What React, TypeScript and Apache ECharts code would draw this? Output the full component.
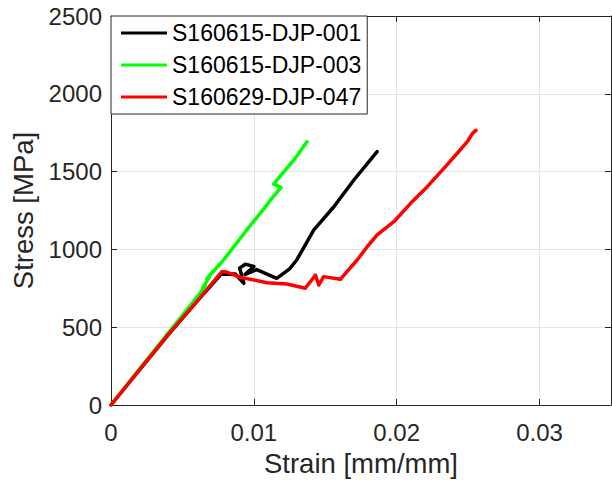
import React, { useEffect, useRef } from "react";
import * as echarts from "echarts";

const seriesNames = ["S160615-DJP-001", "S160615-DJP-003", "S160629-DJP-047"];
const seriesColors = ["#000000", "#00ff00", "#ff0000"];

const strain001 = [0, 0.002, 0.004, 0.006, 0.0077, 0.0087, 0.0093, 0.009, 0.0094, 0.01, 0.0094, 0.0102, 0.0116, 0.0125, 0.013, 0.0142, 0.0156, 0.017, 0.01863];
const stress001 = [0, 225, 450, 665, 840, 842, 782, 880, 905, 890, 840, 870, 814, 875, 932, 1125, 1274, 1446, 1628];

const strain003 = [0, 0.002, 0.004, 0.0063, 0.0066, 0.0064, 0.0069, 0.0067, 0.0072, 0.0071, 0.0076, 0.0075, 0.0079, 0.0095, 0.0107, 0.0112, 0.0119, 0.01138, 0.0128, 0.01372];
const stress003 = [0, 232, 462, 725, 770, 750, 825, 810, 865, 850, 905, 890, 935, 1125, 1260, 1322, 1399, 1420, 1575, 1692];

const strain047 = [0, 0.002, 0.004, 0.006, 0.00776, 0.008, 0.00905, 0.01092, 0.01232, 0.0136, 0.01431, 0.01454, 0.01489, 0.01606, 0.01641, 0.01723, 0.01793, 0.01863, 0.0198, 0.02097, 0.02214, 0.0233, 0.02424, 0.02494, 0.0253, 0.02555, 0.0254];
const stress047 = [0, 228, 452, 665, 857, 857, 821, 786, 778, 750, 835, 771, 825, 808, 846, 932, 1017, 1093, 1178, 1296, 1403, 1521, 1618, 1692, 1745, 1765, 1755];

const xTicks = { min: 0, max: 0.035, interval: 0.01 };
const yTicks = { min: 0, max: 2500, interval: 500 };

const FONT = "'Liberation Sans', Arial, Helvetica, sans-serif";
const AXIS_COLOR = "#262626";

function toPairs(xs: number[], ys: number[]) {
  return xs.map((x, i) => [x, ys[i]]);
}

export default function App() {
  const ref = useRef<HTMLDivElement>(null);
  useEffect(() => {
    if (!ref.current) return;
    const chart = echarts.init(ref.current, null, { renderer: "svg" });
    const datasets = [toPairs(strain001, stress001), toPairs(strain003, stress003), toPairs(strain047, stress047)];
    const axisCommon = {
      axisLine: { show: true, onZero: false, lineStyle: { color: AXIS_COLOR, width: 1 } },
      axisTick: { show: true, inside: true, length: 6, lineStyle: { color: AXIS_COLOR } },
    };
    chart.setOption({
      animation: false,
      backgroundColor: "#ffffff",
      grid: { left: 111, right: 1, top: 16, bottom: 79, containLabel: false },
      legend: {
        data: seriesNames,
        orient: "vertical",
        left: 111,
        top: 16,
        icon: "rect",
        itemWidth: 46,
        itemHeight: 3,
        itemGap: 0,
        padding: [1, 6, 1, 10],
        borderColor: AXIS_COLOR,
        borderWidth: 1,
        backgroundColor: "#ffffff",
        textStyle: { fontFamily: FONT, fontSize: 23, color: "#000000", lineHeight: 32, padding: [0, 0, 0, 0] },
        itemStyle: { borderWidth: 0 },
        lineStyle: { width: 0 },
      },
      xAxis: [
        {
          type: "value",
          min: xTicks.min,
          max: xTicks.max,
          interval: xTicks.interval,
          position: "bottom",
          name: "Strain [mm/mm]",
          nameLocation: "middle",
          nameGap: 44,
          nameTextStyle: { fontFamily: FONT, fontSize: 27.5, color: AXIS_COLOR },
          ...axisCommon,
          axisLabel: {
            fontFamily: FONT,
            fontSize: 24,
            color: AXIS_COLOR,
            margin: 15,
            showMaxLabel: false,
            formatter: (v: number) => (v === 0 ? "0" : String(+v.toFixed(3))),
          },
          splitLine: { show: true, lineStyle: { color: "#e3e3e3", width: 1 } },
        },
        {
          type: "value",
          min: xTicks.min,
          max: xTicks.max,
          interval: xTicks.interval,
          position: "top",
          ...axisCommon,
          axisLabel: { show: false },
          splitLine: { show: false },
        },
      ],
      yAxis: [
        {
          type: "value",
          min: yTicks.min,
          max: yTicks.max,
          interval: yTicks.interval,
          position: "left",
          name: "Stress [MPa]",
          nameLocation: "middle",
          nameGap: 68,
          nameTextStyle: { fontFamily: FONT, fontSize: 27.5, color: AXIS_COLOR },
          ...axisCommon,
          axisLabel: { fontFamily: FONT, fontSize: 24, color: AXIS_COLOR, margin: 9, formatter: (v: number) => String(v) },
          splitLine: { show: true, lineStyle: { color: "#e3e3e3", width: 1 } },
        },
        {
          type: "value",
          min: yTicks.min,
          max: yTicks.max,
          interval: yTicks.interval,
          position: "right",
          ...axisCommon,
          axisLabel: { show: false },
          splitLine: { show: false },
        },
      ],
      series: seriesNames.map((name, i) => ({
        name,
        type: "line",
        data: datasets[i],
        showSymbol: false,
        symbol: "none",
        color: seriesColors[i],
        lineStyle: { color: seriesColors[i], width: 3.5, cap: "round", join: "round" },
        xAxisIndex: 0,
        yAxisIndex: 0,
        z: 2 + i,
      })),
    });
    return () => chart.dispose();
  }, []);
  return (
    <div
      ref={ref}
      style={{ position: "fixed", left: 0, top: 0, width: 612, height: 484, background: "#ffffff" }}
    />
  );
}
